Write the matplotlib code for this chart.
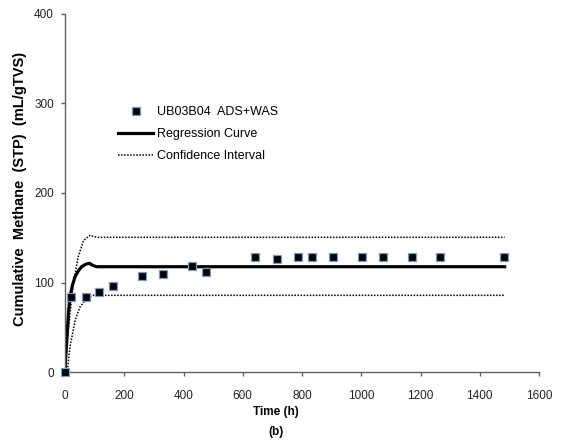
import matplotlib.pyplot as plt

plt.rcParams["font.family"] = ["Liberation Sans", "DejaVu Sans"]

# measured data
time_h = [0, 19, 71, 116, 163, 261, 330, 428, 476, 643, 715, 787, 835, 906, 1003, 1075, 1170, 1266, 1482]
methane = [0, 84.3, 84, 89.5, 96, 107.7, 110, 118.5, 112, 128.5, 126, 128.5, 128.5, 128.5, 128.5, 128.5, 128.5, 128.5, 128.9]

# regression curve and confidence interval
reg_x = [0, 2, 5, 8, 12, 17, 25, 34, 45, 56, 70, 82, 95, 107, 1484]
reg_y = [0, 15, 30, 47, 68, 84, 97, 106.6, 113, 117.7, 120.5, 121.5, 119, 117.7, 117.7]
up_x = [0, 5.6, 14.6, 28, 45, 62, 84, 107, 1484]
up_y = [0, 28.5, 58, 99, 129, 146.7, 152.7, 150.5, 150.5]
lo_x = [0, 8, 17, 34, 51, 73, 95, 1484]
lo_y = [0, 2.5, 28.5, 58, 73, 82.5, 85.8, 85.8]

W, H = 564, 445
fig = plt.figure(figsize=(W / 100, H / 100), dpi=100)
ax = fig.add_axes([65 / W, 1 - 372.3 / H, (539 - 65) / W, (372.3 - 13.5) / H])

ax.plot(reg_x, reg_y, color="black", lw=2.3, label="Regression Curve", zorder=2)
ax.plot(up_x, up_y, color="black", lw=1.1, dashes=(1, 1), label="Confidence Interval", zorder=2)
ax.plot(lo_x, lo_y, color="black", lw=1.1, dashes=(1, 1), zorder=2)
ax.plot(time_h, methane, ls="none", marker="s", ms=5.5, mfc="black", mec="#7a9cc8",
        mew=0.9, label="UB03B04  ADS+WAS", zorder=3, clip_on=False)

ax.set_xlim(0, 1600)
ax.set_ylim(0, 400)
ax.set_xticks(range(0, 1601, 200))
ax.set_yticks(range(0, 401, 100))
for s in ["top", "right"]:
    ax.spines[s].set_visible(False)
for s in ["left", "bottom"]:
    ax.spines[s].set_color("#606060")
    ax.spines[s].set_linewidth(1.0)
ax.tick_params(direction="out", length=3, width=1, color="#606060", labelsize=8.5, labelcolor="#222222")
ax.tick_params(axis="x", pad=9.5)
ax.tick_params(axis="y", pad=5)

fig.text(276 / W, 1 - 412 / H, "Time (h)", ha="center", va="center", fontsize=8.5, fontweight="bold")
fig.text(276 / W, 1 - 432 / H, "(b)", ha="center", va="center", fontsize=8.5, fontweight="bold")
fig.text(20 / W, 1 - 189 / H, "Cumulative  Methane  (STP)  (mL/gTVS)", rotation=90, ha="center", va="center",
         fontsize=10.5, fontweight="bold")

h, l = ax.get_legend_handles_labels()
order = [2, 0, 1]
ax.legend([h[i] for i in order], [l[i] for i in order], loc="upper left",
          bbox_to_anchor=(118 / W, 1 - 106 / H), bbox_transform=fig.transFigure,
          frameon=False, fontsize=9, borderpad=0, borderaxespad=0,
          handlelength=2.8, handletextpad=0.3, labelspacing=0.8)

fig.savefig("out.png", dpi=100)
